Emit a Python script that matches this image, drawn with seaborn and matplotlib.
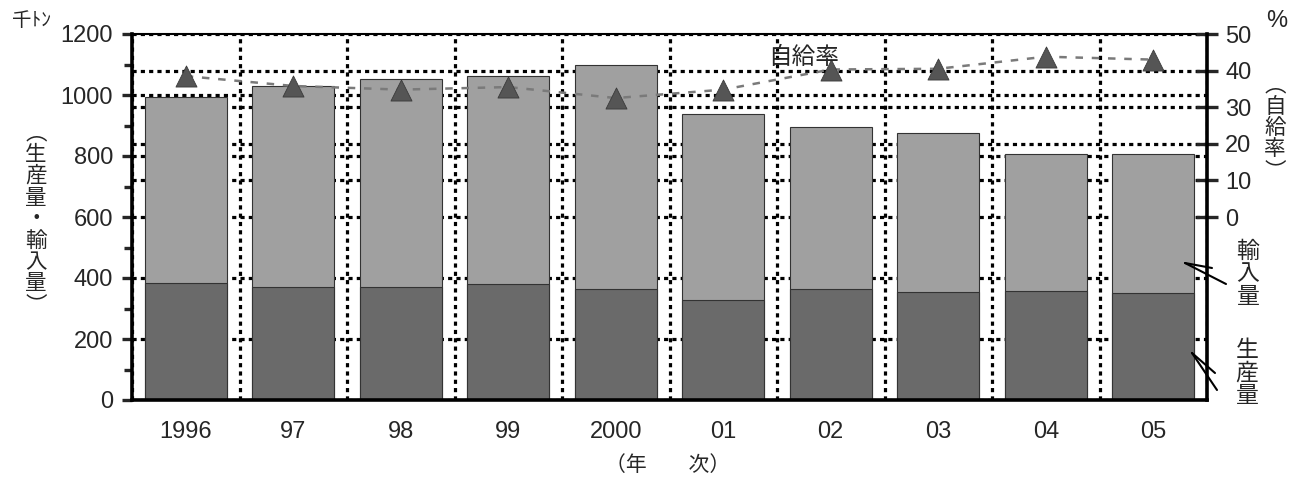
import numpy as np
import pandas as pd
import matplotlib
matplotlib.use("Agg")
import matplotlib.pyplot as plt
from matplotlib.lines import Line2D
import seaborn as sns

# ---- data ----
years = ["1996", "97", "98", "99", "2000", "01", "02", "03", "04", "05"]
production = [385, 372, 372, 381, 365, 329, 365, 355, 357, 350]   # 生産量 (千トン)
imports = [610, 658, 679, 681, 735, 608, 531, 519, 448, 455]      # 輸入量 (千トン)
self_rate = [38.5, 35.8, 34.8, 35.5, 32.5, 34.8, 40.3, 40.5, 43.8, 43.0]  # 自給率 (%)
left_ticks = [0, 200, 400, 600, 800, 1000, 1200]
left_minor = [100, 300, 500, 700, 900, 1100]
right_ticks = [0, 10, 20, 30, 40, 50]
right_grid = [10, 20, 30, 40]

sns.set_style("white")
plt.rcParams["font.family"] = ["Liberation Sans", "Noto Sans CJK JP"]
CJK = ["Noto Sans CJK JP", "DejaVu Sans"]
TICK_FS = 17

W, H = 1304, 479
fig = plt.figure(figsize=(W / 100, H / 100), dpi=100)
rect = [132 / W, (H - 400) / H, 1075 / W, 366 / H]
ax = fig.add_axes(rect)
axg = ax.twinx()
ax2 = ax.twinx()
axg.set_zorder(0)
ax.set_zorder(1)
ax2.set_zorder(2)
ax.patch.set_visible(False)
ax2.patch.set_visible(False)

df = pd.DataFrame({"year": years, "production": production, "imports": imports})
df["total"] = df["production"] + df["imports"]

grid_kw = dict(color="black", linestyle=(0, (1.3, 1.3)), linewidth=2.3)

# stacked bars
sns.barplot(data=df, x="year", y="total", color="#a0a0a0", saturation=1,
            width=0.76, edgecolor="#333333", linewidth=0.8, ax=ax)
sns.barplot(data=df, x="year", y="production", color="#6a6a6a", saturation=1,
            width=0.76, edgecolor="#333333", linewidth=0.8, ax=ax)

ax.set_ylim(0, 1200)
ax.set_yticks(left_ticks)
ax.set_yticks(left_minor, minor=True)
ax.set_xticks(range(len(years)))
ax.set_xticklabels(years)
ax.set_xticks(np.arange(-0.5, len(years), 1.0), minor=True)
ax.set_axisbelow(True)
ax.yaxis.grid(True, which="major", **grid_kw)
ax.xaxis.grid(True, which="minor", **grid_kw)
ax.xaxis.grid(False, which="major")
ax.set_xlabel("")
ax.set_ylabel("")
ax.tick_params(axis="x", which="major", length=0, pad=15, labelsize=TICK_FS)
ax.tick_params(axis="x", which="minor", length=14, width=2.4, direction="inout")
ax.tick_params(axis="y", which="major", length=7.5, width=2.4, direction="out",
               labelsize=TICK_FS, pad=6, left=True)
ax.tick_params(axis="y", which="minor", length=5.5, width=2.4, direction="out", left=True)
for s in ["left", "bottom"]:
    ax.spines[s].set_linewidth(2.6)
    ax.spines[s].set_color("black")
ax.spines["top"].set_linewidth(1.5)
ax.spines["top"].set_color("black")
ax.spines["right"].set_visible(False)

# right-axis grid lines (behind the bars)
axg.set_ylim(-50, 50)
axg.set_yticks(right_grid)
axg.yaxis.grid(True, **grid_kw)
axg.tick_params(right=False, labelright=False, left=False, labelleft=False)
for s in axg.spines.values():
    s.set_visible(False)

# self-sufficiency rate line
xpos = np.arange(len(years))
sns.lineplot(x=xpos, y=self_rate, ax=ax2, color="#7a7a7a", linewidth=1.8,
             linestyle=(0, (3, 3.5)))
sns.scatterplot(x=xpos, y=self_rate, ax=ax2, marker="^", s=230,
                color="#555555", edgecolor="#3a3a3a", linewidth=0.6, zorder=5)
ax2.set_ylim(-50, 50)
ax2.set_yticks(right_ticks)
ax2.tick_params(axis="y", length=16, width=2.4, direction="inout",
                labelsize=TICK_FS, pad=5)
ax2.spines["right"].set_linewidth(2.6)
ax2.spines["right"].set_color("black")
for s in ["left", "top", "bottom"]:
    ax2.spines[s].set_visible(False)
ax.set_xlim(-0.5, len(years) - 0.5)

# ---- texts ----
def fx(px):
    return px / W

def fy(py):
    return 1 - py / H

fig.text(fx(31), fy(20), "千ﾄﾝ", family=CJK, fontsize=14, ha="center", va="center")
fig.text(fx(1277), fy(21), "%", fontsize=17, ha="center", va="center")
fig.text(fx(36), fy(219), "\n".join("︵生産量・輸入量︶"), family=CJK, fontsize=15.5,
         ha="center", va="center", linespacing=0.97)
fig.text(fx(1275), fy(128), "\n".join("︵自給率︶"), family=CJK, fontsize=15.5,
         ha="center", va="center", linespacing=0.97)
fig.text(fx(804), fy(57), "自給率", family=CJK, fontsize=17, ha="center", va="center")
fig.text(fx(1248), fy(274), "\n".join("輸入量"), family=CJK, fontsize=16.5,
         ha="center", va="center", linespacing=0.99)
fig.text(fx(1247), fy(373), "\n".join("生産量"), family=CJK, fontsize=16.5,
         ha="center", va="center", linespacing=0.99)
fig.text(fx(668), fy(465), "（年　　次）", family=CJK, fontsize=15, ha="center", va="center")

# pointer lines for the bar labels
for (x0, y0), (x1, y1) in [((1185, 263), (1212, 268)), ((1185, 263), (1226, 284)),
                           ((1192, 353), (1215, 373)), ((1192, 353), (1217, 390))]:
    fig.add_artist(Line2D([fx(x0), fx(x1)], [fy(y0), fy(y1)], color="black",
                          linewidth=1.5, transform=fig.transFigure))

fig.savefig("out.png", dpi=100)
